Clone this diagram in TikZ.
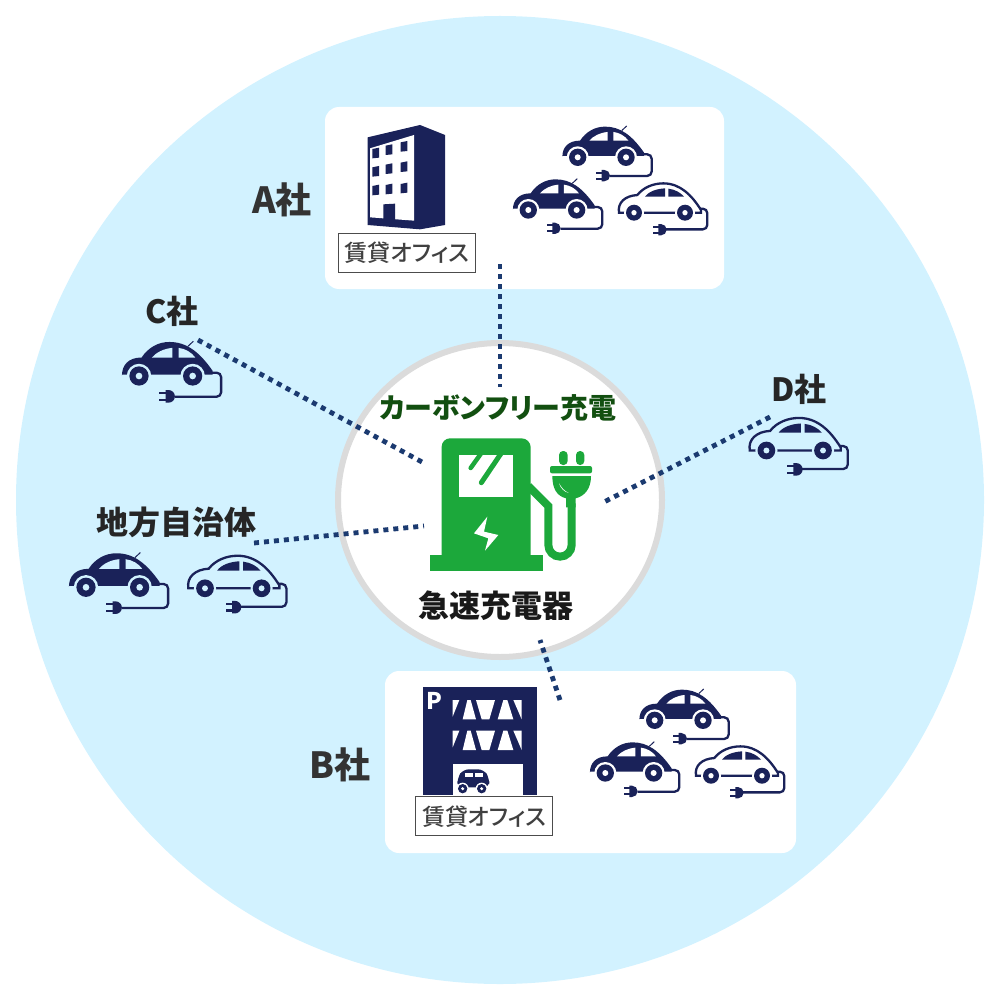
\documentclass[tikz,border=0pt]{standalone}
\usepackage{fontspec}
\setmainfont{Noto Sans CJK JP}[RawFeature=+palt]
\newfontfamily\tagfont{Noto Sans CJK JP Medium}[RawFeature=+palt]
\usetikzlibrary{shapes.geometric}
\definecolor{skybg}{HTML}{D2F2FF}
\definecolor{navyicon}{HTML}{1A2259}
\definecolor{dotline}{HTML}{1B3A70}
\definecolor{chargegreen}{HTML}{1CA83B}
\definecolor{leafgreen}{HTML}{124F10}
\definecolor{labelgray}{HTML}{333333}
\colorlet{carhole}{white}
\newcommand{\carplug}[2]{
  \fill[navyicon] (#1+8,#2-17) arc (-90:90:17) -- (#1,#2+17) -- (#1,#2-17) -- cycle;
  \fill[navyicon] (#1-17,#2-12) rectangle (#1+2,#2-6);
  \fill[navyicon] (#1-17,#2+6) rectangle (#1+2,#2+12);
}
\tikzset{
  whitebox/.style={fill=white, rounded corners=14pt},
  linkdots/.style={draw=dotline, line width=4.8pt, dash pattern=on 5pt off 5pt},
  cablewire/.style={draw=navyicon, line width=2.3pt, rounded corners=4.5pt},
  companylabel/.style={font=\fontsize{36}{36}\selectfont\bfseries, text=labelgray},
  smallcompany/.style={font=\fontsize{32}{32}\selectfont\bfseries, text=black!85},
  officetag/.style={draw=black!70, fill=white, line width=0.8pt, minimum width=137pt, minimum height=39pt,
    inner sep=0pt, font=\fontsize{23}{23}\tagfont, text=black!75},
  pics/darkcar/.style={code={
    \begin{scope}[scale=1/3, shift={(-233,-142)}]
      \fill[navyicon] (187,140) .. controls (187,112) and (205,92) .. (240,92)
        .. controls (258,65) and (285,50) .. (315,50) .. controls (360,50) and (395,75) .. (432,128)
        -- (432,138) -- (187,138) -- cycle;
      \draw[navyicon, line width=1pt] (365,62) -- (380,48);
      \fill[carhole] (268,92) .. controls (280,78) and (300,68) .. (323,66) -- (323,92) -- cycle;
      \fill[carhole] (340,66) .. controls (358,68) and (375,78) .. (385,92) -- (340,92) -- cycle;
      \foreach \wx in {233,378} {
        \fill[carhole] (\wx,142) circle (33);
        \fill[navyicon] (\wx,142) circle (26);
        \fill[carhole] (\wx,142) circle (9);
      }
      \draw[cablewire] (428,133) -- (455,133) -- (455,198) -- (330,198);
      \carplug{305}{197}
    \end{scope}
  }},
  pics/whitecar/.style={code={
    \begin{scope}[scale=1/3, shift={(-402,-308)}]
      \draw[navyicon, line width=2.3pt] (357,308) .. controls (352,278) and (375,257) .. (412,255)
        .. controls (430,232) and (460,220) .. (490,220) .. controls (540,220) and (575,255) .. (603,300)
        -- (603,308) -- cycle;
      \fill[navyicon] (435,260) .. controls (445,245) and (470,236) .. (495,235) -- (495,260) -- cycle;
      \fill[navyicon] (505,236) .. controls (525,238) and (542,248) .. (552,260) -- (505,260) -- cycle;
      \foreach \wx in {402,555} {
        \fill[carhole] (\wx,308) circle (30);
        \fill[navyicon] (\wx,308) circle (24);
        \fill[carhole] (\wx,308) circle (8);
      }
      \draw[cablewire] (600,296) -- (622,296) -- (622,358) -- (498,358);
      \carplug{475}{359}
    \end{scope}
  }},
}
\begin{document}
\begin{tikzpicture}[x=1pt, y=-1pt]
  \useasboundingbox (0,0) rectangle (1000,1000);
  % backdrop
  \fill[skybg] (500,500) circle (484);
  \node[whitebox, minimum width=399pt, minimum height=182pt, inner sep=0pt] (boxA) at (524.5,198) {};
  \node[whitebox, minimum width=411pt, minimum height=182pt, inner sep=0pt] (boxB) at (590.5,762) {};
  \node[ellipse, draw=black!14, fill=white, line width=6pt, minimum width=324pt, minimum height=314pt, inner sep=0pt] (hub) at (500,500) {};
  % rented office block, A
  \begin{scope}[shift={(330,110)}, scale=1/3]
    \fill[navyicon] (113,82) -- (270,45) -- (345,75) -- (345,345) -- (270,358) -- (113,345) -- cycle;
    \fill[white] (120,115) -- (252,75) -- (252,332) -- (120,322) -- cycle;
    \foreach \cx/\cy in {127/117,167/107,212/97,127/172,167/164,212/158,127/228,167/225,212/222}
      \fill[navyicon] (\cx,\cy) -- ++(20,-4) -- ++(0,30) -- ++(-20,2) -- cycle;
    \fill[navyicon] (160,283) -- (195,281) -- (195,335) -- (160,330) -- cycle;
  \end{scope}
  \node[officetag] (tagA) at (407,252.5) {賃貸オフィス};
  % parking block, B
  \begin{scope}[shift={(410,680)}, scale=1/3]
    \fill[navyicon] (38,20) rectangle (382,345);
    \foreach \dy in {0,92} {
      \begin{scope}[shift={(0,\dy)}]
        \fill[white] (128,60) -- (148,60) -- (128,110) -- cycle;
        \fill[white] (172,60) -- (182,60) -- (198,118) -- (158,118) -- cycle;
        \fill[white] (198,60) -- (255,60) -- (238,118) -- (215,118) -- cycle;
        \fill[white] (280,60) -- (292,60) -- (310,118) -- (263,118) -- cycle;
        \fill[white] (310,60) -- (335,60) -- (335,118) -- cycle;
      \end{scope}
    }
    \fill[white] (128,252) rectangle (338,345);
    \fill[navyicon, rounded corners=6pt] (142,322) -- (142,295) -- (158,268) -- (222,268) -- (238,295) -- (238,322) -- cycle;
    \fill[white] (165,280) rectangle (188,292);
    \fill[white] (195,280) rectangle (218,292);
    \foreach \wx in {158,215} {
      \fill[white] (\wx,326) circle (18);
      \fill[navyicon] (\wx,326) circle (14);
      \fill[white] (\wx,326) circle (5);
    }
  \end{scope}
  \node[text=white, font=\fontsize{23}{23}\selectfont\bfseries, inner sep=0pt] (parkP) at (434,701) {P};
  \node[officetag] (tagB) at (484.2,816.3) {賃貸オフィス};
  % charger
  \begin{scope}[shift={(410,420)}, scale=1/3]
    \fill[chargegreen] (60,405) rectangle (400,452);
    \fill[chargegreen] (95,405) -- (95,80) arc (180:270:25) -- (335,55) arc (270:360:27) -- (362,405) -- cycle;
    \fill[white] (148,105) rectangle (308,230);
    \draw[chargegreen, line width=4.5pt, line cap=round] (182,144) -- (212,102);
    \draw[chargegreen, line width=5pt, line cap=round] (214,188) -- (272,102);
    \fill[white] (232,290) -- (222,335) -- (265,345) -- (225,392) -- (235,355) -- (192,340) -- cycle;
    \draw[chargegreen, line width=8pt] (355,198) -- (415,258) -- (415,375) arc (180:0:35) -- (485,250);
    \fill[chargegreen, rounded corners=2pt] (420,138) rectangle (546,160);
    \fill[chargegreen, rounded corners=4pt] (447,135) -- (447,93) -- (473,93) -- (473,135) -- cycle;
    \fill[chargegreen, rounded corners=4pt] (498,135) -- (498,93) -- (523,93) -- (523,135) -- cycle;
    \fill[chargegreen] (427,168) -- (543,168) .. controls (543,205) and (525,228) .. (497,235)
      -- (497,262) -- (468,262) -- (468,235) .. controls (440,228) and (427,205) .. (427,168) -- cycle;
    \fill[white] (447,190) .. controls (452,205) and (462,215) .. (476,219) .. controls (462,212) and (455,203) .. (447,190) -- cycle;
  \end{scope}
  % cars
  \pic at (577.7,157.3) {darkcar};
  \pic at (528.3,210) {darkcar};
  \pic at (634,212.7) {whitecar};
  \pic at (654.7,720.3) {darkcar};
  \pic at (605.3,773) {darkcar};
  \pic at (711,775.7) {whitecar};
  \colorlet{carhole}{skybg}
  \pic[scale=1.11] at (139,376) {darkcar};
  \pic[scale=1.11] at (86,587.3) {darkcar};
  \pic[scale=1.11] at (205,588.3) {whitecar};
  \pic[scale=1.11] at (766.4,450.5) {whitecar};
  % labels
  \node[companylabel] (nameA) at (282,200) {A社};
  \node[companylabel] (nameB) at (340,765) {B社};
  \node[smallcompany] (nameC) at (172,311) {C社};
  \node[smallcompany] (nameD) at (799,389) {D社};
  \node[font=\fontsize{32}{32}\selectfont\bfseries, text=black!85] (nameLocal) at (176,522) {地方自治体};
  \node[font=\fontsize{28}{28}\selectfont\bfseries, text=leafgreen] (carbonfree) at (498,408) {カーボンフリー充電};
  \node[font=\fontsize{31}{31}\selectfont\bfseries, text=black!90] (quick) at (496,606) {急速充電器};
  % dotted links to the hub
  \coordinate (endA) at (500,264);
  \coordinate (hubA) at (500,387);
  \coordinate (endB) at (560,700);
  \coordinate (hubB) at (540,640);
  \coordinate (endC) at (198,340);
  \coordinate (hubC) at (422,462);
  \coordinate (endD) at (770,417);
  \coordinate (hubD) at (602,503);
  \coordinate (endLocal) at (254,543);
  \coordinate (hubLocal) at (424,526);
  \foreach \a/\b in {endA/hubA,endB/hubB,endC/hubC,endD/hubD,endLocal/hubLocal}
    \draw[linkdots] (\a) -- (\b);
\end{tikzpicture}
\end{document}
